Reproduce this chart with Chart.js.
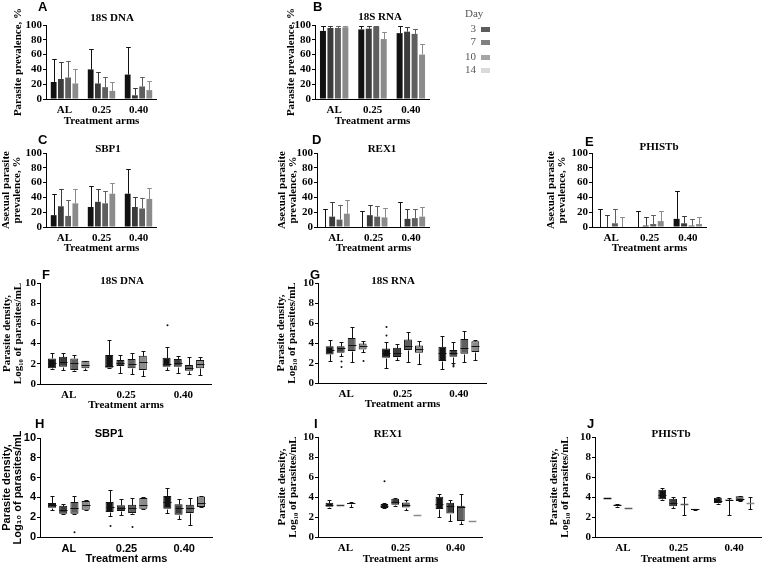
<!DOCTYPE html>
<html>
<head>
<meta charset="utf-8">
<script src="https://cdn.jsdelivr.net/npm/chart.js@4.4.0/dist/chart.umd.min.js"></script>
<style>
body { margin: 0; width: 763px; height: 563px; overflow: hidden; background: #fff; position: relative; }
.box { position: absolute; }
.letter { position: absolute; font: bold 13px "Liberation Sans", Arial, sans-serif; line-height: 13px; color: #000; }
.ttl { position: absolute; font: bold 11px "Liberation Serif", "Times New Roman", serif; transform: translate(-50%, -50%); white-space: nowrap; color: #000; }
.ttl.sans { font-family: "Liberation Sans", Arial, sans-serif; }
.leg { position: absolute; font: 11px "Liberation Serif", "Times New Roman", serif; color: #555; line-height: 11px; }
.sw { position: absolute; width: 9px; height: 5px; }
</style>
</head>
<body>
<script>
const arms = ['AL', '0.25', '0.40'];
const days = ['3', '7', '10', '14'];

// prevalence (%), indexed [day][arm]
const dnaPrev   = [[23, 40, 33], [27, 21, 5], [29, 16, 17], [21, 11, 12]];
const dnaPrevUp = [[54, 68, 70], [50, 37, 15], [52, 30, 30], [41, 23, 25]];
const rnaPrev   = [[92, 94, 89], [96, 95, 91], [96, 98, 88], [97, 81, 60]];
const rnaPrevUp = [[99, 99, 99], [99, 99, 97], [99, 99, 95], [99, 91, 74]];
const sbpPrev   = [[16, 27, 45], [28, 34, 27], [15, 32, 25], [32, 45, 38]];
const sbpPrevUp = [[45, 55, 78], [51, 51, 41], [37, 48, 39], [52, 60, 53]];
const rexPrev   = [[0, 0, 0], [14, 16, 11], [10, 14, 12], [18, 13, 14]];
const rexPrevUp = [[25, 22, 34], [34, 30, 24], [30, 28, 25], [37, 26, 27]];
const phiPrev   = [[0, 0, 11], [0, 2, 5], [5, 4, 2], [0, 8, 4]];
const phiPrevUp = [[25, 22, 48], [16, 13, 15], [24, 16, 11], [13, 21, 14]];

// density (log10 parasites/mL): [min, q1, median, q3, max], indexed [day][arm]
const dnaDens = [
  [[1.45, 1.55, 2.04, 2.53, 3.09], [1.55, 1.61, 1.8, 2.86, 4.34], [1.38, 1.71, 2.0, 2.6, 3.68]],
  [[1.38, 1.71, 2.2, 2.7, 3.03], [1.05, 1.78, 2.1, 2.37, 2.86], [1.05, 1.71, 2.1, 2.47, 2.76]],
  [[1.28, 1.38, 2.1, 2.53, 2.86], [0.99, 1.55, 1.97, 2.47, 3.03], [0.99, 1.32, 1.55, 1.88, 2.63]],
  [[1.38, 1.55, 1.88, 2.3, 2.3], [0.79, 1.38, 2.2, 2.8, 3.26], [0.89, 1.55, 1.97, 2.37, 2.63]]
];
const dnaOut = [[[], [], [5.82]], [[], [], []], [[], [], []], [[], [], []]];

const rnaDens = [
  [[2.2, 2.86, 3.3, 3.68, 4.34], [1.55, 2.53, 3.0, 3.45, 4.11], [1.45, 2.2, 3.0, 3.62, 4.67]],
  [[2.7, 3.03, 3.52, 3.68, 4.11], [2.3, 2.6, 3.03, 3.52, 3.91], [1.97, 2.63, 2.96, 3.29, 4.11]],
  [[2.1, 3.19, 3.85, 4.5, 5.59], [2.14, 3.29, 3.75, 4.34, 5.07], [2.1, 2.93, 3.52, 4.41, 5.16]],
  [[3.12, 3.36, 3.68, 3.95, 4.18], [1.94, 3.03, 3.42, 3.75, 4.18], [2.3, 3.09, 3.75, 4.18, 4.34]]
];
const rnaOut = [[[], [5.59, 4.74], []], [[2.14, 1.61], [], [1.81, 1.64]], [[], [], []], [[2.2], [], []]];

const sbpDens = [
  [[2.76, 2.96, 3.2, 3.43, 4.14], [2.09, 2.53, 3.0, 3.54, 4.71], [2.46, 2.86, 3.5, 4.14, 4.95]],
  [[2.36, 2.36, 2.69, 3.16, 3.37], [2.19, 2.63, 2.93, 3.2, 3.8], [1.85, 2.26, 2.96, 3.3, 3.87]],
  [[2.36, 2.36, 2.93, 3.54, 4.14], [2.29, 2.42, 2.96, 3.27, 3.97], [1.18, 2.42, 2.93, 3.27, 3.97]],
  [[2.76, 2.76, 3.2, 3.64, 3.7], [2.86, 2.86, 3.27, 3.94, 4.04], [3.03, 3.03, 3.43, 4.1, 4.14]]
];
const sbpOut = [[[], [1.11], []], [[], [], []], [[0.47], [1.01], []], [[], [], []]];

const rexDens = [
  [[2.95, 3.02, 3.2, 3.42, 3.69], [2.86, 2.89, 3.1, 3.29, 3.36], [2.01, 2.79, 3.3, 4.03, 4.26]],
  [[3.19, 3.19, 3.19, 3.19, 3.19], [3.12, 3.22, 3.52, 3.83, 3.9], [1.61, 2.35, 3.12, 3.42, 3.69]],
  [[3.05, 3.3, 3.38, 3.4, 3.46], [2.68, 2.95, 3.19, 3.46, 3.69], [1.28, 1.61, 3.02, 3.12, 4.26]],
  [null, [2.18, 2.18, 2.18, 2.18, 2.18], [1.61, 1.61, 1.61, 1.61, 1.61]]
];
const rexOut = [[[], [5.57], []], [[], [], []], [[], [], []], [[], [], []]];

const phiDens = [
  [[3.9, 3.9, 3.9, 3.9, 3.9], [3.67, 3.77, 4.2, 4.73, 4.93], [3.33, 3.4, 3.65, 3.93, 4.0]],
  [[3.0, 3.1, 3.17, 3.25, 3.35], [2.9, 3.07, 3.4, 3.83, 4.0], [2.17, 3.67, 3.67, 3.75, 3.9]],
  [[2.9, 2.9, 2.9, 2.9, 2.9], [2.17, 3.33, 3.33, 3.33, 4.0], [3.6, 3.6, 3.83, 4.07, 4.07]],
  [null, [2.7, 2.7, 2.77, 2.83, 2.83], [2.77, 3.4, 3.4, 3.4, 4.0]]
];
const phiOut = [[[], [], []], [[], [], []], [[], [], []], [[], [], []]];

const dayFill = ['#121212', '#3b3b3b', '#5f5f5f', '#8b8b8b'];
const legendFill = ['#5c5c5c', '#808080', '#a5a5a5', '#dadada'];

const SERIF = '"Liberation Serif", "Times New Roman", serif';
const SANS = '"Liberation Sans", Arial, sans-serif';
const PADTOP = 28;

function ln(ctx, x1, y1, x2, y2) {
  ctx.beginPath(); ctx.moveTo(x1, y1); ctx.lineTo(x2, y2); ctx.stroke();
}

// error bars and box-plot whiskers, placed from each bar element and the y scale
const whiskers = {
  id: 'whiskers',
  afterDatasetsDraw(chart) {
    const ctx = chart.ctx, y = chart.scales.y;
    chart.data.datasets.forEach((ds, di) => {
      const meta = chart.getDatasetMeta(di);
      meta.data.forEach((bar, ai) => {
        const x = Math.round(bar.x) + 0.5, hw = bar.width / 2;
        ctx.save();
        ctx.lineWidth = 1;
        if (ds.upper) {
          ctx.strokeStyle = ds.backgroundColor;
          const top = Math.round(y.getPixelForValue(ds.upper[ai])) + 0.5;
          const base = y.getPixelForValue(ds.data[ai]);
          ln(ctx, x, base, x, top);
          ln(ctx, x - hw * 0.8, top, x + hw * 0.8, top);
        }
        const s = ds.stats ? ds.stats[ai] : null;
        if (s) {
          const p = s.map(v => Math.round(y.getPixelForValue(v)) + 0.5);
          ctx.strokeStyle = '#111';
          ln(ctx, x, p[3], x, p[4]);
          ln(ctx, x, p[1], x, p[0]);
          ln(ctx, x - hw * 0.5, p[4], x + hw * 0.5, p[4]);
          ln(ctx, x - hw * 0.5, p[0], x + hw * 0.5, p[0]);
          ctx.strokeStyle = s[1] === s[3] ? ds.backgroundColor : '#111';
          if (s[1] === s[3]) ctx.lineWidth = 1.5;
          ln(ctx, x - hw, p[2], x + hw, p[2]);
          ctx.fillStyle = '#111';
          (ds.outliers[ai] || []).forEach(v => {
            ctx.beginPath();
            ctx.arc(x, y.getPixelForValue(v), 1, 0, Math.PI * 2);
            ctx.fill();
          });
        }
        ctx.restore();
      });
    });
  }
};

function addDiv(cls, text, css) {
  const d = document.createElement('div');
  d.className = cls;
  d.textContent = text;
  Object.assign(d.style, css);
  document.body.appendChild(d);
  return d;
}

// p.top / p.h describe the plot box from 8px above the top tick down to the axis title
function panel(p) {
  const extra = PADTOP - 8;
  const wrap = addDiv('box', '', { left: p.left + 'px', top: (p.top - extra) + 'px', width: p.w + 'px', height: (p.h + extra) + 'px' });
  const cv = document.createElement('canvas');
  wrap.appendChild(cv);
  const fam = p.sans ? SANS : SERIF;
  let datasets;
  if (p.boxes) {
    datasets = days.map((d, i) => ({
      label: 'Day ' + d,
      data: p.boxes[i].map(s => s ? [s[1], s[3]] : null),
      stats: p.boxes[i],
      outliers: p.out[i],
      backgroundColor: dayFill[i],
      borderColor: '#111',
      borderWidth: 1,
      borderSkipped: false,
      barPercentage: 0.72,
      categoryPercentage: 0.78
    }));
  } else {
    datasets = days.map((d, i) => ({
      label: 'Day ' + d,
      data: p.mean[i],
      upper: p.up[i],
      backgroundColor: dayFill[i],
      borderWidth: 0,
      barPercentage: 0.8,
      categoryPercentage: 0.78
    }));
  }
  new Chart(cv, {
    type: 'bar',
    data: { labels: arms, datasets },
    options: {
      responsive: true,
      maintainAspectRatio: false,
      animation: false,
      layout: { padding: { top: PADTOP, right: 0, bottom: 0, left: 0 } },
      plugins: { legend: { display: false }, tooltip: { enabled: false } },
      scales: {
        x: {
          grid: { display: false, drawTicks: false },
          border: { display: true, color: '#000', width: 1 },
          ticks: { color: '#000', padding: 5, font: { family: fam, size: 11, weight: 'bold' } },
          title: { display: true, text: 'Treatment arms', color: '#000', padding: 0,
                   font: { family: fam, size: 11, weight: 'bold', lineHeight: 1.2 } },
          afterFit(s) { s.height = p.xH; }
        },
        y: {
          min: 0, max: p.max,
          grid: { display: true, drawOnChartArea: false, drawTicks: true, tickLength: 3, color: '#000' },
          border: { display: true, color: '#000', width: 1 },
          ticks: { stepSize: p.max / 5, autoSkip: false, color: '#000', padding: 1,
                   font: { family: fam, size: 11, weight: 'bold' } },
          title: { display: true, text: p.yTitle, color: '#000', padding: 0,
                   font: { family: fam, size: 11, weight: 'bold', lineHeight: 1.0 } },
          afterFit(s) { s.width = p.yW; }
        }
      }
    },
    plugins: [whiskers]
  });
  addDiv('letter', p.letter, { left: p.lx + 'px', top: p.ly + 'px' });
  addDiv('ttl' + (p.sans ? ' sans' : ''), p.name, { left: p.tx + 'px', top: p.ty + 'px' });
}

const prevTitle = 'Parasite prevalence, %';
const asexTitle = ['Asexual parasite', 'prevalence, %'];
const densTitle = ['Parasite density,', 'Log\u2081\u2080 of parasites/mL'];

panel({ letter: 'A', lx: 38, ly: 0, name: '18S DNA', tx: 112, ty: 17, left: 13, top: 17, w: 144, h: 111, yW: 33, xH: 29,
        max: 100, yTitle: prevTitle, mean: dnaPrev, up: dnaPrevUp });
panel({ letter: 'B', lx: 313, ly: 0, name: '18S RNA', tx: 380, ty: 16, left: 286, top: 17, w: 144, h: 111, yW: 29, xH: 29,
        max: 100, yTitle: prevTitle, mean: rnaPrev, up: rnaPrevUp });
panel({ letter: 'C', lx: 38, ly: 133, name: 'SBP1', tx: 108, ty: 148, left: 1, top: 145, w: 156, h: 110, yW: 45, xH: 28,
        max: 100, yTitle: asexTitle, mean: sbpPrev, up: sbpPrevUp });
panel({ letter: 'D', lx: 312, ly: 133, name: 'REX1', tx: 382, ty: 148, left: 277, top: 145, w: 153, h: 110, yW: 40, xH: 28,
        max: 100, yTitle: asexTitle, mean: rexPrev, up: rexPrevUp });
panel({ letter: 'E', lx: 585, ly: 135, name: 'PHISTb', tx: 659, ty: 146, left: 546, top: 145, w: 161, h: 110, yW: 46, xH: 28,
        max: 100, yTitle: asexTitle, mean: phiPrev, up: phiPrevUp });
panel({ letter: 'F', lx: 42, ly: 268, name: '18S DNA', tx: 122, ty: 280, left: 2, top: 275, w: 210, h: 137, yW: 38, xH: 28,
        max: 10, yTitle: densTitle, boxes: dnaDens, out: dnaOut });
panel({ letter: 'G', lx: 310, ly: 268, name: '18S RNA', tx: 393, ty: 280, left: 276, top: 275, w: 211, h: 136, yW: 42, xH: 28,
        max: 10, yTitle: densTitle, boxes: rnaDens, out: rnaOut });
panel({ letter: 'H', lx: 35, ly: 417, name: 'SBP1', tx: 109, ty: 433, left: 1, top: 430, w: 212, h: 136, yW: 39, xH: 29,
        max: 10, yTitle: densTitle, boxes: sbpDens, out: sbpOut, sans: true });
panel({ letter: 'I', lx: 314, ly: 417, name: 'REX1', tx: 388, ty: 433, left: 277, top: 429, w: 206, h: 137, yW: 41, xH: 29,
        max: 10, yTitle: densTitle, boxes: rexDens, out: rexOut });
panel({ letter: 'J', lx: 587, ly: 417, name: 'PHISTb', tx: 671, ty: 433, left: 549, top: 429, w: 213, h: 137, yW: 46, xH: 29,
        max: 10, yTitle: densTitle, boxes: phiDens, out: phiOut });

// legend for the Day colours
addDiv('leg', 'Day', { left: '465px', top: '8px' });
const legY = [29, 42, 57, 70];
days.forEach((d, i) => {
  addDiv('leg', d, { left: '455px', width: '21px', textAlign: 'right', top: (legY[i] - 6) + 'px' });
  addDiv('sw', '', { left: '481px', top: (legY[i] - 2) + 'px', background: legendFill[i] });
});
</script>
</body>
</html>
